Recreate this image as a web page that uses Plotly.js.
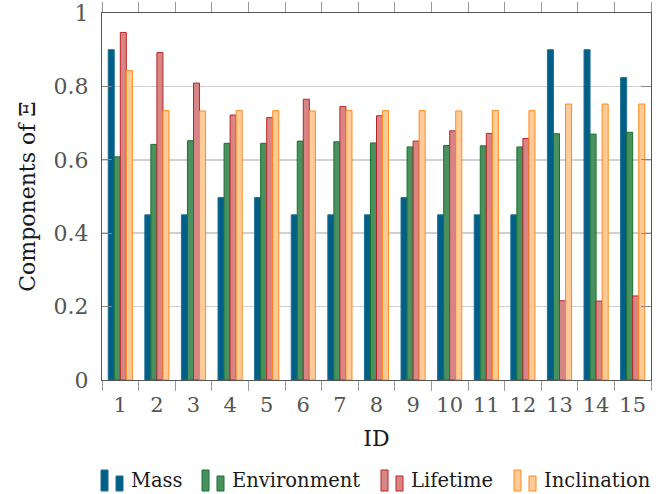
<!DOCTYPE html>
<html>
<head>
<meta charset="utf-8">
<script src="https://cdn.plot.ly/plotly-3.0.1.min.js"></script>
<style>
  html, body { margin: 0; padding: 0; background: #fff; }
  #chart { width: 662px; height: 494px; }
</style>
</head>
<body>
<div id="chart"></div>
<script>
// Category labels along the x axis
const ids = ['1','2','3','4','5','6','7','8','9','10','11','12','13','14','15'];

// Component values per ID
const mass        = [0.900, 0.450, 0.450, 0.497, 0.497, 0.450, 0.450, 0.450, 0.497, 0.450, 0.450, 0.450, 0.900, 0.900, 0.824];
const environment = [0.608, 0.642, 0.652, 0.645, 0.645, 0.651, 0.649, 0.646, 0.635, 0.639, 0.638, 0.635, 0.671, 0.670, 0.675];
const lifetime    = [0.947, 0.892, 0.809, 0.722, 0.715, 0.765, 0.745, 0.720, 0.651, 0.679, 0.672, 0.658, 0.216, 0.215, 0.229];
const inclination = [0.843, 0.734, 0.733, 0.734, 0.734, 0.733, 0.735, 0.734, 0.734, 0.733, 0.734, 0.734, 0.752, 0.752, 0.752];

const seriesNames = ['Mass', 'Environment', 'Lifetime', 'Inclination'];
const seriesValues = [mass, environment, lifetime, inclination];

const fills = ['#005f87', '#4a9160', '#d98585', '#ffcc99'];
const edges = ['#1f6f93', '#1b7030', '#b82525', '#ff8a1c'];

const FONT = 'DejaVu Serif';

const traces = seriesNames.map((name, i) => ({
  type: 'bar',
  name: name,
  x: ids,
  y: seriesValues[i],
  marker: { color: fills[i], line: { color: edges[i], width: 1 } },
  showlegend: false,
  hoverinfo: 'x+y+name'
}));

// Plot frame in pixels
const W = 662, H = 494;
const M = { l: 102, r: 11, t: 13, b: 114 };
const plotW = W - M.l - M.r, plotH = H - M.t - M.b;
const px = x => (x - M.l) / plotW;
const py = y => (H - M.b - y) / plotH;

// Legend row: two-bar icon followed by the series name
const legendStart = [101, 202, 381, 514];
const shapes = [];
const annotations = [];
seriesNames.forEach((name, i) => {
  const x0 = legendStart[i];
  shapes.push({
    type: 'rect', xref: 'paper', yref: 'paper',
    x0: px(x0), x1: px(x0 + 7), y0: py(491), y1: py(470),
    fillcolor: fills[i], line: { color: edges[i], width: 1 }
  });
  shapes.push({
    type: 'rect', xref: 'paper', yref: 'paper',
    x0: px(x0 + 15), x1: px(x0 + 22), y0: py(491), y1: py(476),
    fillcolor: fills[i], line: { color: edges[i], width: 1 }
  });
  annotations.push({
    xref: 'paper', yref: 'paper',
    x: px(x0 + 28), y: py(480),
    xanchor: 'left', yanchor: 'middle',
    text: name, showarrow: false,
    font: { family: FONT, size: 19.5, color: '#1a1a1a' }
  });
});

const layout = {
  width: W, height: H,
  margin: M,
  paper_bgcolor: '#fff',
  plot_bgcolor: '#fff',
  barmode: 'group',
  bargap: 0.34,
  bargroupgap: 0,
  font: { family: FONT, color: '#222' },
  xaxis: {
    type: 'category',
    categoryorder: 'array',
    categoryarray: ids,
    tickson: 'boundaries',
    ticks: 'outside',
    ticklen: 10,
    tickwidth: 1,
    tickcolor: '#999',
    tickangle: 0,
    ticklabelstandoff: 6,
    showline: true,
    linecolor: '#555',
    linewidth: 1.2,
    mirror: 'ticks',
    showgrid: false,
    tickfont: { family: FONT, size: 21, color: '#555' },
    title: { text: 'ID', font: { family: FONT, size: 22, color: '#1a1a1a' }, standoff: 14 },
    automargin: false
  },
  yaxis: {
    range: [0, 1],
    tickvals: [0, 0.2, 0.4, 0.6, 0.8, 1],
    ticktext: ['0', '0.2', '0.4', '0.6', '0.8', '1'],
    ticks: 'inside',
    ticklen: 10,
    tickwidth: 1,
    tickcolor: '#888',
    showline: true,
    linecolor: '#555',
    linewidth: 1.2,
    mirror: 'ticks',
    showgrid: true,
    gridcolor: '#d0d0d0',
    gridwidth: 1.5,
    zeroline: false,
    ticklabelstandoff: 8,
    ticklabeloverflow: 'allow',
    tickfont: { family: FONT, size: 22, color: '#555' },
    title: { text: 'Components of Ξ', font: { family: FONT, size: 22, color: '#1a1a1a' }, standoff: 11 },
    automargin: false
  },
  shapes: shapes,
  annotations: annotations
};

Plotly.newPlot('chart', traces, layout, { displayModeBar: false, staticPlot: true });
</script>
</body>
</html>
